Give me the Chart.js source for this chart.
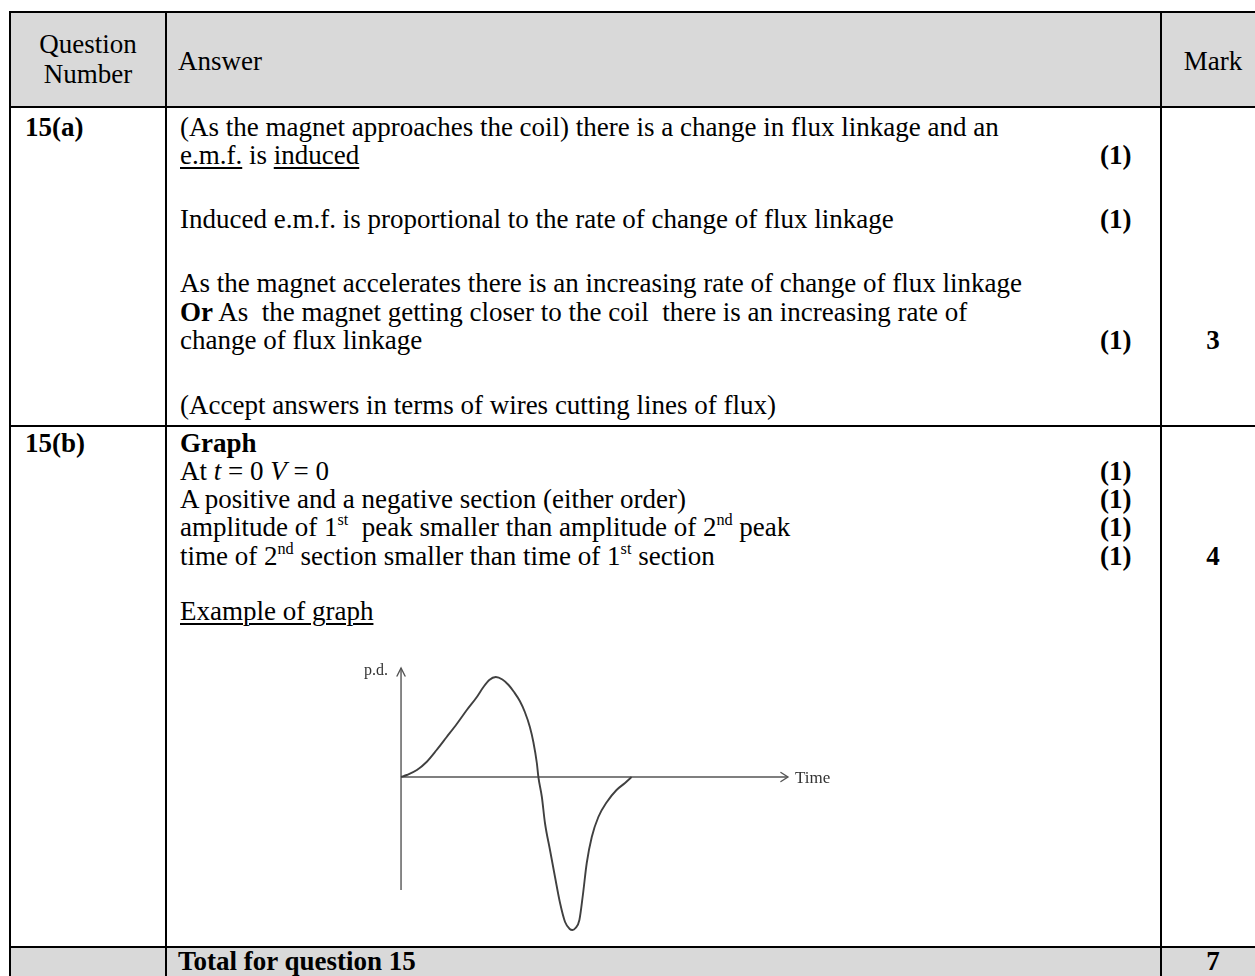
<!DOCTYPE html>
<html>
<head>
<meta charset="utf-8">
<script src="https://cdn.jsdelivr.net/npm/chart.js@4.4.1/dist/chart.umd.min.js"></script>
<style>
  html, body { margin: 0; padding: 0; background: #fff; }
  #page { position: relative; width: 1255px; height: 976px; overflow: hidden; background: #fff;
          font-family: "Liberation Serif", "Times New Roman", serif; font-size: 27px; color: #000; }
  .t { position: absolute; white-space: pre; line-height: 30px; }
  .b { font-weight: bold; }
  .c { text-align: center; }
  .hl { position: absolute; background: #000; height: 2px; }
  .vl { position: absolute; background: #000; width: 2px; }
  .gray { position: absolute; background: #d9d9d9; }
  u { text-decoration-thickness: 1.5px; text-underline-offset: 3px; }
  sup { font-size: 60%; line-height: 0; vertical-align: 0.65em; }
  #chartBox { position: absolute; left: 343px; top: 647px; width: 561px; height: 297px; }
</style>
</head>
<body>
<div id="page">
  <!-- shaded rows -->
  <div class="gray" style="left:11px; top:13px; width:1244px; height:93px;"></div>
  <div class="gray" style="left:11px; top:948px; width:1244px; height:28px;"></div>

  <!-- grid lines -->
  <div class="hl" style="left:9px; top:11px; width:1246px;"></div>
  <div class="hl" style="left:9px; top:106px; width:1246px;"></div>
  <div class="hl" style="left:9px; top:425px; width:1246px;"></div>
  <div class="hl" style="left:9px; top:946px; width:1246px;"></div>
  <div class="vl" style="left:9px; top:11px; height:965px;"></div>
  <div class="vl" style="left:165px; top:11px; height:965px;"></div>
  <div class="vl" style="left:1160px; top:11px; height:965px;"></div>

  <!-- header -->
  <div class="t c" style="left:11px; width:154px; top:29px;">Question</div>
  <div class="t c" style="left:11px; width:154px; top:59px;">Number</div>
  <div class="t" style="left:178px; top:46px;">Answer</div>
  <div class="t c" style="left:1162px; width:102px; top:46px;">Mark</div>

  <!-- 15(a) -->
  <div class="t b" style="left:25px; top:112px;">15(a)</div>
  <div class="t" style="left:180px; top:112px;">(As the magnet approaches the coil) there is a change in flux linkage and an</div>
  <div class="t" style="left:180px; top:140px;"><u>e.m.f.</u> is <u>induced</u></div>
  <div class="t b" style="left:1100px; top:140px;">(1)</div>
  <div class="t" style="left:180px; top:204px;">Induced e.m.f. is proportional to the rate of change of flux linkage</div>
  <div class="t b" style="left:1100px; top:204px;">(1)</div>
  <div class="t" style="left:180px; top:268px;">As the magnet accelerates there is an increasing rate of change of flux linkage</div>
  <div class="t" style="left:180px; top:297px;"><b>Or</b> As  the magnet getting closer to the coil  there is an increasing rate of</div>
  <div class="t" style="left:180px; top:325px;">change of flux linkage</div>
  <div class="t b" style="left:1100px; top:325px;">(1)</div>
  <div class="t b c" style="left:1162px; width:102px; top:325px;">3</div>
  <div class="t" style="left:180px; top:390px;">(Accept answers in terms of wires cutting lines of flux)</div>

  <!-- 15(b) -->
  <div class="t b" style="left:25px; top:428px;">15(b)</div>
  <div class="t b" style="left:180px; top:428px;">Graph</div>
  <div class="t" style="left:180px; top:456px;">At <i>t</i> = 0 <i>V</i> = 0</div>
  <div class="t b" style="left:1100px; top:456px;">(1)</div>
  <div class="t" style="left:180px; top:484px;">A positive and a negative section (either order)</div>
  <div class="t b" style="left:1100px; top:484px;">(1)</div>
  <div class="t" style="left:180px; top:512px;">amplitude of 1<sup>st</sup>  peak smaller than amplitude of 2<sup>nd</sup> peak</div>
  <div class="t b" style="left:1100px; top:512px;">(1)</div>
  <div class="t" style="left:180px; top:541px;">time of 2<sup>nd</sup> section smaller than time of 1<sup>st</sup> section</div>
  <div class="t b" style="left:1100px; top:541px;">(1)</div>
  <div class="t b c" style="left:1162px; width:102px; top:541px;">4</div>
  <div class="t" style="left:180px; top:596px;"><u>Example of graph</u></div>

  <!-- total -->
  <div class="t b" style="left:178px; top:946px;">Total for question 15</div>
  <div class="t b c" style="left:1162px; width:102px; top:946px;">7</div>

  <div id="chartBox"><canvas id="graph" width="561" height="297"></canvas></div>
</div>

<script>
// ---- data (arbitrary units) ----
const curveTime    = [0, 0.15, 0.41, 0.66, 0.92, 1.18, 1.44, 1.70, 1.96, 2.13, 2.28, 2.45, 2.62, 2.78, 2.92, 3.07, 3.20, 3.33, 3.42, 3.51, 3.55,
                      3.64, 3.72, 3.85, 3.98, 4.11, 4.24, 4.36, 4.43, 4.51, 4.61, 4.70, 4.80, 4.93, 5.10, 5.32, 5.57, 5.79, 5.96];
const curveVoltage = [0, 0.2, 0.7, 1.5, 2.7, 4.0, 5.3, 6.7, 8.0, 9.0, 9.7, 10.0, 9.75, 9.2, 8.5, 7.6, 6.5, 5.0, 3.5, 1.4, 0,
                      -2.0, -4.6, -7.3, -10.0, -12.6, -14.5, -15.2, -15.3, -15.1, -14.3, -11.8, -8.6, -6.0, -4.0, -2.5, -1.3, -0.6, 0];
const timeAxisEnd  = 10;      // end of the Time arrow
const pdAxisTop    = 10.9;    // top of the p.d. arrow
const pdAxisBottom = -11.3;   // bottom of the p.d. axis line
const axisLabels   = ['p.d.', 'Time'];

const curvePoints = curveTime.map((t, i) => ({ x: t, y: curveVoltage[i] }));

const arrowPlugin = {
  id: 'arrowPlugin',
  afterDatasetsDraw(chart) {
    const { ctx, scales: { x, y } } = chart;
    const x0 = x.getPixelForValue(0);
    const y0 = y.getPixelForValue(0);
    const xEnd = x.getPixelForValue(timeAxisEnd);
    const yTop = y.getPixelForValue(pdAxisTop);
    ctx.save();
    ctx.strokeStyle = '#555';
    ctx.lineWidth = 1.4;
    ctx.lineCap = 'round';
    ctx.beginPath();
    ctx.moveTo(xEnd - 7, y0 - 4.5); ctx.lineTo(xEnd, y0); ctx.lineTo(xEnd - 7, y0 + 4.5);
    ctx.stroke();
    ctx.beginPath();
    ctx.moveTo(x0 - 4, yTop + 8); ctx.lineTo(x0, yTop); ctx.lineTo(x0 + 4, yTop + 8);
    ctx.stroke();
    ctx.fillStyle = '#333';
    ctx.textBaseline = 'middle';
    ctx.font = '16px "Liberation Serif", serif';
    ctx.textAlign = 'right';
    ctx.fillText(axisLabels[0], x0 - 13, yTop + 3);
    ctx.font = '17px "Liberation Serif", serif';
    ctx.textAlign = 'left';
    ctx.fillText(axisLabels[1], xEnd + 7, y0 + 2);
    ctx.restore();
  }
};

new Chart(document.getElementById('graph'), {
  type: 'line',
  data: {
    datasets: [
      {
        label: 'p.d.',
        data: curvePoints,
        borderColor: '#404040',
        borderWidth: 1.9,
        pointRadius: 0,
        cubicInterpolationMode: 'monotone',
        fill: false
      },
      {
        label: 'time axis',
        data: [{ x: 0, y: 0 }, { x: timeAxisEnd, y: 0 }],
        borderColor: '#555',
        borderWidth: 1.4,
        pointRadius: 0
      },
      {
        label: 'p.d. axis',
        data: [{ x: 0, y: pdAxisBottom }, { x: 0, y: pdAxisTop }],
        borderColor: '#555',
        borderWidth: 1.4,
        pointRadius: 0
      }
    ]
  },
  options: {
    responsive: false,
    animation: false,
    devicePixelRatio: 1,
    layout: { padding: 0 },
    plugins: { legend: { display: false }, tooltip: { enabled: false } },
    scales: {
      x: { type: 'linear', min: -1.5, max: 13, display: false },
      y: { type: 'linear', min: -16.7, max: 13, display: false }
    }
  },
  plugins: [arrowPlugin]
});
</script>
</body>
</html>
